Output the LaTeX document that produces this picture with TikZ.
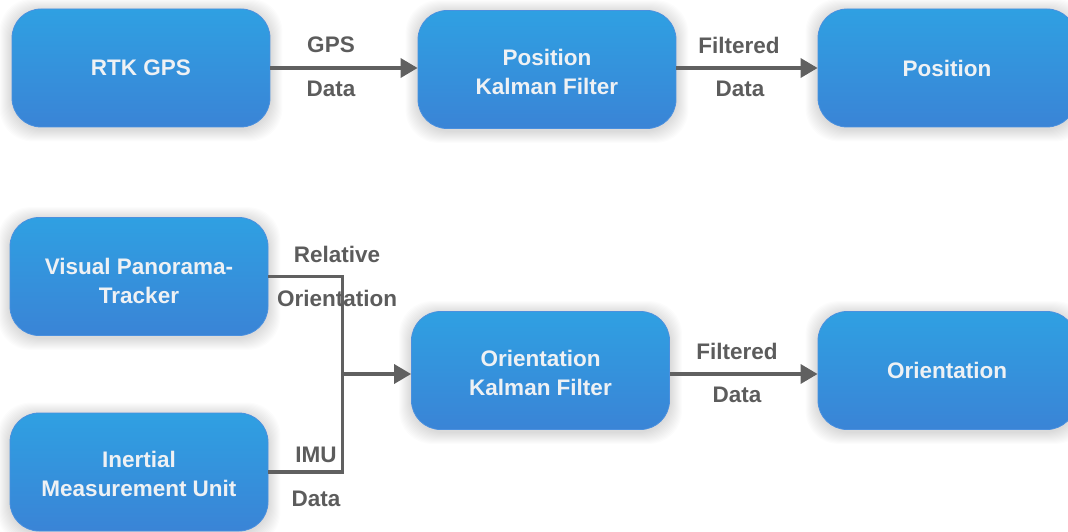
\documentclass[tikz,border=0pt]{standalone}
\usepackage{fontspec}
\setmainfont{Liberation Sans}
\usetikzlibrary{arrows.meta,backgrounds}

\definecolor{boxtop}{HTML}{2FA0E2}
\definecolor{boxbot}{HTML}{3A84D6}
\definecolor{boxrim}{HTML}{4A90DF}
\definecolor{wiregrey}{HTML}{606060}
\definecolor{boxtext}{HTML}{EEF1F4}
\definecolor{labeltext}{HTML}{5C5C5C}

\tikzset{
  unit/.style={rounded corners=29pt, minimum width=258pt, minimum height=118pt,
    inner sep=0pt, top color=boxtop, bottom color=boxbot, draw=boxrim,
    line width=0.8pt, text=boxtext, align=center,
    font=\fontsize{22.5}{29}\selectfont\bfseries},
  link/.style={draw=wiregrey, line width=3.5pt, line join=miter},
  flow/.style={link, -{Triangle[length=17pt,width=19pt]}},
  tag/.style={text=labeltext, inner sep=0pt,
    font=\fontsize{22.5}{27}\selectfont\bfseries}
}

% strut lowering the first line of a two-line caption
\newcommand\lift[1]{\rule{0pt}{#1}}

% soft halo drawn behind a box
\newcommand\softshadow[1]{%
  \begin{pgfonlayer}{background}
    \foreach \s in {1,...,12}{
      \fill[black, opacity=0.013, rounded corners=33pt]
        ([xshift=-\s pt, yshift=-\s pt-2pt]#1.south west) rectangle
        ([xshift=\s pt, yshift=\s pt-2pt]#1.north east);
    }
  \end{pgfonlayer}}

\begin{document}
\begin{tikzpicture}[x=1pt, y=-1pt]
  \useasboundingbox (0,0) rectangle (1068,532);

  % position chain
  \node[unit] (rtk) at (141,68)   {RTK GPS};
  \node[unit] (pkf) at (547,69.5) {\lift{21pt}Position\\Kalman Filter};
  \node[unit] (pos) at (947,68)   {Position};

  % orientation chain
  \node[unit] (vpt) at (139,276.5) {\lift{26pt}Visual Panorama-\\Tracker};
  \node[unit] (imu) at (139,472)   {\lift{21pt}Inertial\\Measurement Unit};
  \node[unit] (okf) at (540.5,370.5) {\lift{21pt}Orientation\\Kalman Filter};
  \node[unit] (ori) at (947,370.5)   {Orientation};

  \softshadow{rtk}\softshadow{pkf}\softshadow{pos}
  \softshadow{vpt}\softshadow{imu}\softshadow{okf}\softshadow{ori}

  \coordinate (join) at (342.5,374);

  % connectors
  \draw[flow] (rtk.east) -- (rtk.east -| pkf.west);
  \draw[flow] (pkf.east |- rtk.east) -- (rtk.east -| pos.west);
  \draw[link] (vpt.east) -| (join) |- (imu.east);
  \draw[flow] (join) -- (join -| okf.west);
  \draw[flow] (okf.east |- join) -- (join -| ori.west);

  % connector labels
  \node[tag] (l1a) at (331,45)  {GPS};
  \node[tag] (l1b) at (331,89)  {Data};
  \node[tag] (l2a) at (739,45)  {Filtered};
  \node[tag] (l2b) at (740,89)  {Data};
  \node[tag] (l3a) at (337,254) {Relative};
  \node[tag] (l3b) at (337,298) {Orientation};
  \node[tag] (l4a) at (316,455) {IMU};
  \node[tag] (l4b) at (316,499) {Data};
  \node[tag] (l5a) at (737,351) {Filtered};
  \node[tag] (l5b) at (737,395) {Data};
\end{tikzpicture}
\end{document}
